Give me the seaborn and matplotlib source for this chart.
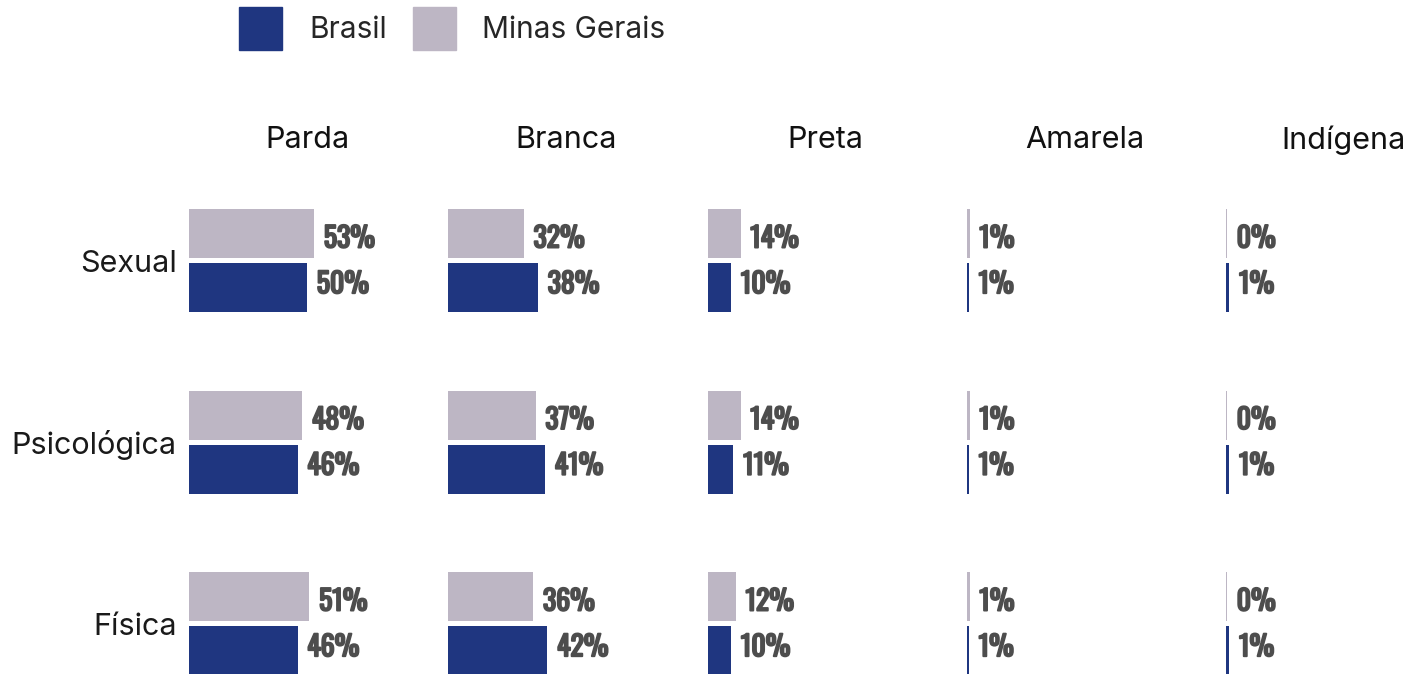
import matplotlib.pyplot as plt
import matplotlib.patches as mpatches
import matplotlib.patheffects as pe
from matplotlib import font_manager as fm
import seaborn as sns
import pandas as pd

# dados (%)
racas = ['Parda', 'Branca', 'Preta', 'Amarela', 'Indígena']
tipos = ['Sexual', 'Psicológica', 'Física']
locais = ['Minas Gerais', 'Brasil']

minas = {
    'Parda': [53, 48, 51],
    'Branca': [32, 37, 36],
    'Preta': [14, 14, 12],
    'Amarela': [1.2, 1.2, 1.2],
    'Indígena': [0.4, 0.4, 0.4],
}
brasil = {
    'Parda': [50, 46, 46],
    'Branca': [38, 41, 42],
    'Preta': [10, 11, 10],
    'Amarela': [0.9, 0.9, 0.9],
    'Indígena': [1.4, 1.4, 1.4],
}

cores = {'Minas Gerais': '#BDB6C4', 'Brasil': '#1F3680'}
cinza = '#4D4D4D'

rows = []
for r in racas:
    for i, t in enumerate(tipos):
        rows.append((r, t, 'Minas Gerais', minas[r][i]))
        rows.append((r, t, 'Brasil', brasil[r][i]))
df = pd.DataFrame(rows, columns=['raca', 'tipo', 'local', 'valor'])

# fonte condensada para os rótulos, se houver
nomes = {f.name for f in fm.fontManager.ttflist}
lbl_family = 'DejaVu Sans'
for cand in ['Oswald', 'Roboto Condensed', 'Liberation Sans Narrow']:
    if cand in nomes:
        lbl_family = cand
        break

sns.set_style("white")
plt.rcParams['font.family'] = ['Inter', 'DejaVu Sans']

W, H = 1419, 674
fig = plt.figure(figsize=(W / 100, H / 100), dpi=100)

lbl_font = dict(family=[lbl_family, 'DejaVu Sans'], weight='bold', size=20, color=cinza,
                path_effects=[pe.withStroke(linewidth=1.4, foreground=cinza)])

for k, r in enumerate(racas):
    left = 189 + k * 259.25
    ax = fig.add_axes([left / W, 0, 236 / W, 504 / H])
    sub = df[df['raca'] == r]
    sns.barplot(data=sub, y='tipo', x='valor', hue='local', hue_order=locais,
                order=tipos, palette=cores, orient='h', width=0.595, gap=0.0924,
                legend=False, ax=ax, errorbar=None, saturation=1, edgecolor='none')
    ax.set_xlim(0, 100)
    ax.set_ylim(-0.5 + 504 / 181.5, -0.5)
    for j, cont in enumerate(ax.containers):
        vals = [b.get_width() for b in cont]
        anns = ax.bar_label(cont, labels=[f"{round(v)}%" for v in vals], padding=7,
                            **lbl_font)
        dy = -3.8 if j == 0 else 2.2
        for a in anns:
            a.xyann = (7, dy)
    ax.set_xlabel('')
    ax.set_ylabel('')
    ax.set_xticks([])
    if k == 0:
        ax.tick_params(axis='y', length=0, pad=9, labelsize=22, labelcolor='#1a1a1a')
    else:
        ax.set_yticks([])
    sns.despine(ax=ax, left=True, bottom=True)
    fig.text((left + 118) / W, 1 - 140 / H, r, ha='center', va='center',
             fontsize=22, color='#111111')

handles = [mpatches.Patch(color=cores['Brasil'], label='Brasil'),
           mpatches.Patch(color=cores['Minas Gerais'], label='Minas Gerais')]
fig.legend(handles=handles, loc='upper left', bbox_to_anchor=(239 / W, 1 - 7 / H),
           ncol=2, frameon=False, fontsize=21.5, borderpad=0, borderaxespad=0,
           handlelength=1.44, handleheight=1.84, handletextpad=0.9,
           columnspacing=0.87)

plt.savefig('out.png', dpi=100)
